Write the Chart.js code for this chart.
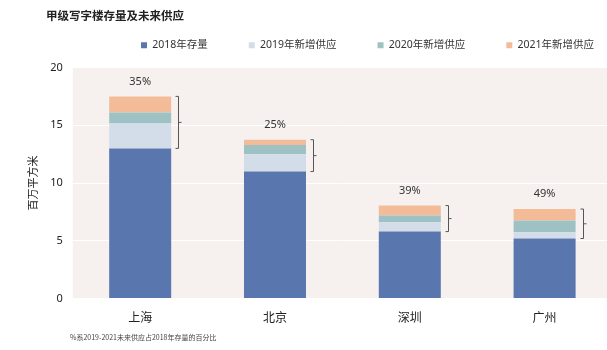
<!DOCTYPE html>
<html>
<head>
<meta charset="utf-8">
<script src="https://cdn.jsdelivr.net/npm/chart.js@4"></script>
<style>
  html, body { margin: 0; padding: 0; background: #fff; overflow: hidden; }
  #wrap { position: relative; width: 612px; height: 350px; }
  #title {
    position: absolute; left: 46px; top: 7px;
    font: bold 11.5px 'Noto Sans CJK SC', sans-serif; color: #222;
  }
  #note {
    position: absolute; left: 70px; top: 332px;
    font: 7px 'Noto Sans CJK SC', sans-serif; color: #444;
  }
</style>
</head>
<body>
<div id="wrap">
  <canvas id="chart" width="612" height="350"></canvas>
  <div id="title">甲级写字楼存量及未来供应</div>
  <div id="note">%系2019-2021未来供应占2018年存量的百分比</div>
</div>
<script>
const cities = ['上海', '北京', '深圳', '广州']
const stock2018 = [13, 11, 5.8, 5.2]
const supply2019 = [2.2, 1.5, 0.8, 0.55]
const supply2020 = [0.9, 0.8, 0.6, 1.0]
const supply2021 = [1.4, 0.45, 0.85, 1.0]
const pctLabels = ['35%', '25%', '39%', '49%']
const seriesNames = ['2018年存量', '2019年新增供应', '2020年新增供应', '2021年新增供应']
const yTicks = [0, 5, 10, 15, 20]

const FONT = "'Noto Sans', 'Noto Sans CJK SC', sans-serif"

// plot background, brackets and percentage labels
const decor = {
  id: 'decor',
  afterLayout(chart) {
    // legend sits a bit higher and right of centre in the original
    const lg = chart.legend
    lg.top -= 7
    lg.bottom -= 7
    lg.left = 100
    lg.right = 700
  },
  beforeDraw(chart) {
    const { ctx, chartArea: a } = chart
    ctx.save()
    ctx.fillStyle = '#f6f1ef'
    ctx.fillRect(a.left, a.top, a.right - a.left, a.bottom - a.top)
    ctx.restore()
  },
  afterDatasetsDraw(chart) {
    const { ctx, scales: { y } } = chart
    const base = chart.getDatasetMeta(0)
    ctx.save()
    ctx.strokeStyle = '#555'
    ctx.lineWidth = 1
    ctx.fillStyle = '#333'
    ctx.font = '11px ' + FONT
    ctx.textAlign = 'center'
    ctx.textBaseline = 'middle'
    cities.forEach((c, i) => {
      const bar = base.data[i]
      const total = stock2018[i] + supply2019[i] + supply2020[i] + supply2021[i]
      const yTop = y.getPixelForValue(total)
      const yBot = y.getPixelForValue(stock2018[i])
      const bx = Math.round(bar.x + bar.width / 2 + 7) + 0.5
      ctx.beginPath()
      ctx.moveTo(bx - 3, yTop)
      ctx.lineTo(bx, yTop)
      ctx.lineTo(bx, yBot)
      ctx.lineTo(bx - 3, yBot)
      const ym = (yTop + yBot) / 2
      ctx.moveTo(bx, ym)
      ctx.lineTo(bx + 3, ym)
      ctx.stroke()
      ctx.fillText(pctLabels[i], bar.x, yTop - 15)
    })
    ctx.restore()
  },
}

new Chart(document.getElementById('chart'), {
  type: 'bar',
  data: {
    labels: cities,
    datasets: [
      { label: seriesNames[0], data: stock2018, backgroundColor: '#5a76ae' },
      { label: seriesNames[1], data: supply2019, backgroundColor: '#d3dde9' },
      { label: seriesNames[2], data: supply2020, backgroundColor: '#9ec1c4' },
      { label: seriesNames[3], data: supply2021, backgroundColor: '#f3bb98' },
    ],
  },
  options: {
    responsive: false,
    animation: false,
    datasets: { bar: { categoryPercentage: 1, barPercentage: 0.46 } },
    layout: { padding: { top: 6, left: 27, right: 0, bottom: 19 } },
    plugins: {
      legend: {
        position: 'top',
        align: 'start',
        labels: {
          boxWidth: 6, boxHeight: 6, padding: 41,
          color: '#333', font: { family: FONT, size: 10.5 },
        },
      },
      tooltip: { enabled: false },
    },
    scales: {
      x: {
        stacked: true,
        grid: { display: false },
        border: { display: false },
        ticks: { color: '#222', padding: 5, font: { family: FONT, size: 12 } },
      },
      y: {
        stacked: true,
        min: 0, max: 20,
        afterBuildTicks: axis => { axis.ticks = yTicks.map(v => ({ value: v })) },
        grid: { color: '#ffffff', lineWidth: 1, drawTicks: false },
        border: { display: false },
        ticks: { color: '#222', padding: 10, font: { family: FONT, size: 11 } },
        title: {
          display: true, text: '百万平方米', color: '#222',
          font: { family: FONT, size: 11 }, padding: { top: 0, bottom: 0 },
        },
      },
    },
  },
  plugins: [decor],
})
</script>
</body>
</html>
